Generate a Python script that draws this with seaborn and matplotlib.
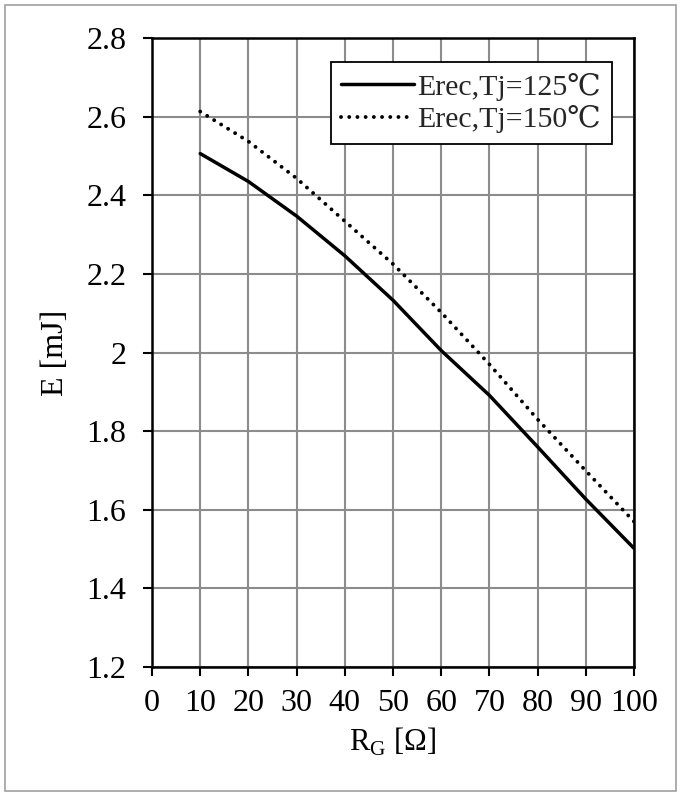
import matplotlib
matplotlib.use("Agg")
import matplotlib.pyplot as plt
import seaborn as sns
import pandas as pd
from matplotlib.patches import Rectangle
from matplotlib.lines import Line2D

rg = [10, 20, 30, 40, 50, 60, 70, 80, 90, 100]
e_125 = [2.506, 2.435, 2.347, 2.246, 2.133, 2.005, 1.891, 1.760, 1.627, 1.502]
e_150 = [2.613, 2.537, 2.443, 2.334, 2.225, 2.102, 1.970, 1.830, 1.699, 1.570]
labels = ["Erec,Tj=125\u2103", "Erec,Tj=150\u2103"]
x_ticks = [0, 10, 20, 30, 40, 50, 60, 70, 80, 90, 100]
y_ticks = [1.2, 1.4, 1.6, 1.8, 2.0, 2.2, 2.4, 2.6, 2.8]
y_ticklabels = ["1.2", "1.4", "1.6", "1.8", "2", "2.2", "2.4", "2.6", "2.8"]

sns.set_theme(style="white")
plt.rcParams['font.family'] = ['Liberation Serif', 'DejaVu Serif', 'Noto Sans CJK JP']
plt.rcParams['mathtext.fontset'] = 'custom'
plt.rcParams['mathtext.rm'] = 'Liberation Serif'

df = pd.DataFrame({
    "RG": rg * 2,
    "E": e_125 + e_150,
    "series": [labels[0]] * len(rg) + [labels[1]] * len(rg),
})

fig = plt.figure(figsize=(6.81, 7.96), dpi=100)
ax = fig.add_axes([152/681, 1 - 667/796, (634-152)/681, (667-38)/796])

sns.lineplot(data=df[df.series == labels[0]], x="RG", y="E", ax=ax,
             color="black", lw=2.5, legend=False)
sns.lineplot(data=df[df.series == labels[1]], x="RG", y="E", ax=ax,
             color="black", lw=2.8, legend=False)
ax.lines[1].set_dashes((0.01, 2.1))
ax.lines[1].set_dash_capstyle('round')

ax.set_xlim(0, 100)
ax.set_ylim(1.2, 2.8)
ax.set_xticks(x_ticks)
ax.set_yticks(y_ticks)
ax.set_yticklabels(y_ticklabels)
ax.grid(True, color="#8c8c8c", lw=1.5)
ax.set_axisbelow(True)
for s in ax.spines.values():
    s.set_color("black")
    s.set_linewidth(1.8)
ax.tick_params(axis='both', direction='out', length=6.5, width=1.5, color='black',
               labelsize=23, colors='black')
ax.tick_params(axis='y', pad=12)
ax.tick_params(axis='x', pad=9)
ax.tick_params(left=True, bottom=True)
ax.set_xlabel("R$_\\mathrm{G}$ [\u03a9]", fontsize=22, color='black', labelpad=6)
ax.set_ylabel("E [mJ]", fontsize=23, color='black', labelpad=12)

handles = [Line2D([], [], color='black', lw=2.5),
           Line2D([], [], color='black', lw=2.8, dashes=(0.01, 2.1), dash_capstyle='round')]
leg = ax.legend(handles, labels, loc='upper right', bbox_to_anchor=(0.954, 0.962),
                fontsize=21.5, frameon=True, fancybox=False, handlelength=2.45,
                handletextpad=0.1, borderpad=0.36, labelspacing=0.15, borderaxespad=0)
leg.get_frame().set_edgecolor('black')
leg.get_frame().set_linewidth(1.3)
leg.get_frame().set_alpha(1)

fig.patches.append(Rectangle((5/681, 5/796), 671/681, 786/796, transform=fig.transFigure,
                             fill=False, edgecolor="#a0a0a0", lw=1.2))

fig.savefig("out.png", dpi=100)
